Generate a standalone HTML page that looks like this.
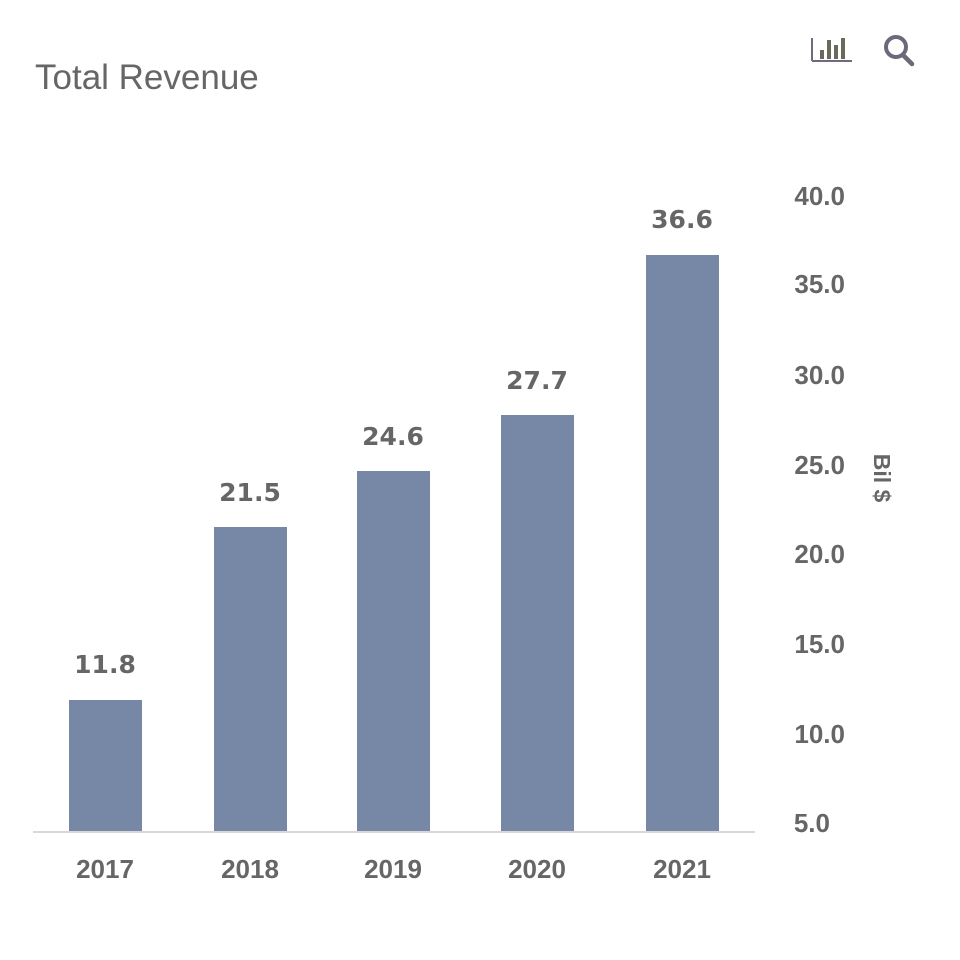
<!DOCTYPE html>
<html><head><meta charset="utf-8"><style>
body{margin:0;background:#fff;width:960px;height:955px;overflow:hidden}
</style></head><body>
<svg width="960" height="955" xmlns="http://www.w3.org/2000/svg">
<text x="35" y="89" font-family="Liberation Sans, sans-serif" font-size="35" fill="#666">Total Revenue</text>
<g stroke="#6f6a80" fill="none">
<line x1="812" y1="38" x2="812" y2="61" stroke-width="2"/>
<line x1="812" y1="61" x2="852" y2="61" stroke-width="2"/>
</g>
<g fill="#6b6a5a">
<rect x="820" y="50" width="4" height="9"/>
<rect x="827" y="40" width="4" height="19"/>
<rect x="834" y="45" width="4" height="14"/>
<rect x="841" y="38" width="4" height="21"/>
</g>
<circle cx="896" cy="47" r="10" stroke="#6a6a78" stroke-width="4" fill="none"/>
<line x1="903" y1="55" x2="912" y2="64" stroke="#6a6a78" stroke-width="4.5" stroke-linecap="round"/>
<g fill="#7787a6">
<rect x="69" y="700" width="73" height="132"/>
<rect x="214" y="527" width="73" height="305"/>
<rect x="357" y="471" width="73" height="361"/>
<rect x="501" y="415" width="73" height="417"/>
<rect x="646" y="255" width="73" height="577"/>
</g>
<line x1="33" y1="832" x2="755" y2="832" stroke="#d8d8d8" stroke-width="2"/>
<g font-family="DejaVu Sans, sans-serif" font-weight="bold" font-size="25" fill="#666" text-anchor="middle">
<text x="105" y="673">11.8</text>
<text x="250" y="501">21.5</text>
<text x="393" y="445">24.6</text>
<text x="537" y="389">27.7</text>
<text x="682" y="228">36.6</text>
</g>
<g font-family="Liberation Sans, sans-serif" font-weight="bold" font-size="26" fill="#666" text-anchor="middle">
<text x="105" y="878">2017</text>
<text x="250" y="878">2018</text>
<text x="393" y="878">2019</text>
<text x="537" y="878">2020</text>
<text x="682" y="878">2021</text>
</g>
<g font-family="Liberation Sans, sans-serif" font-weight="bold" font-size="26" fill="#666" text-anchor="end">
<text x="845" y="205">40.0</text>
<text x="845" y="293">35.0</text>
<text x="845" y="384">30.0</text>
<text x="845" y="474">25.0</text>
<text x="845" y="563">20.0</text>
<text x="845" y="653">15.0</text>
<text x="845" y="743">10.0</text>
<text x="830" y="832">5.0</text>
</g>
<text transform="translate(874,478) rotate(90)" font-family="Liberation Sans, sans-serif" font-weight="bold" font-size="23" fill="#666" text-anchor="middle">Bil $</text>
</svg>
</body></html>
